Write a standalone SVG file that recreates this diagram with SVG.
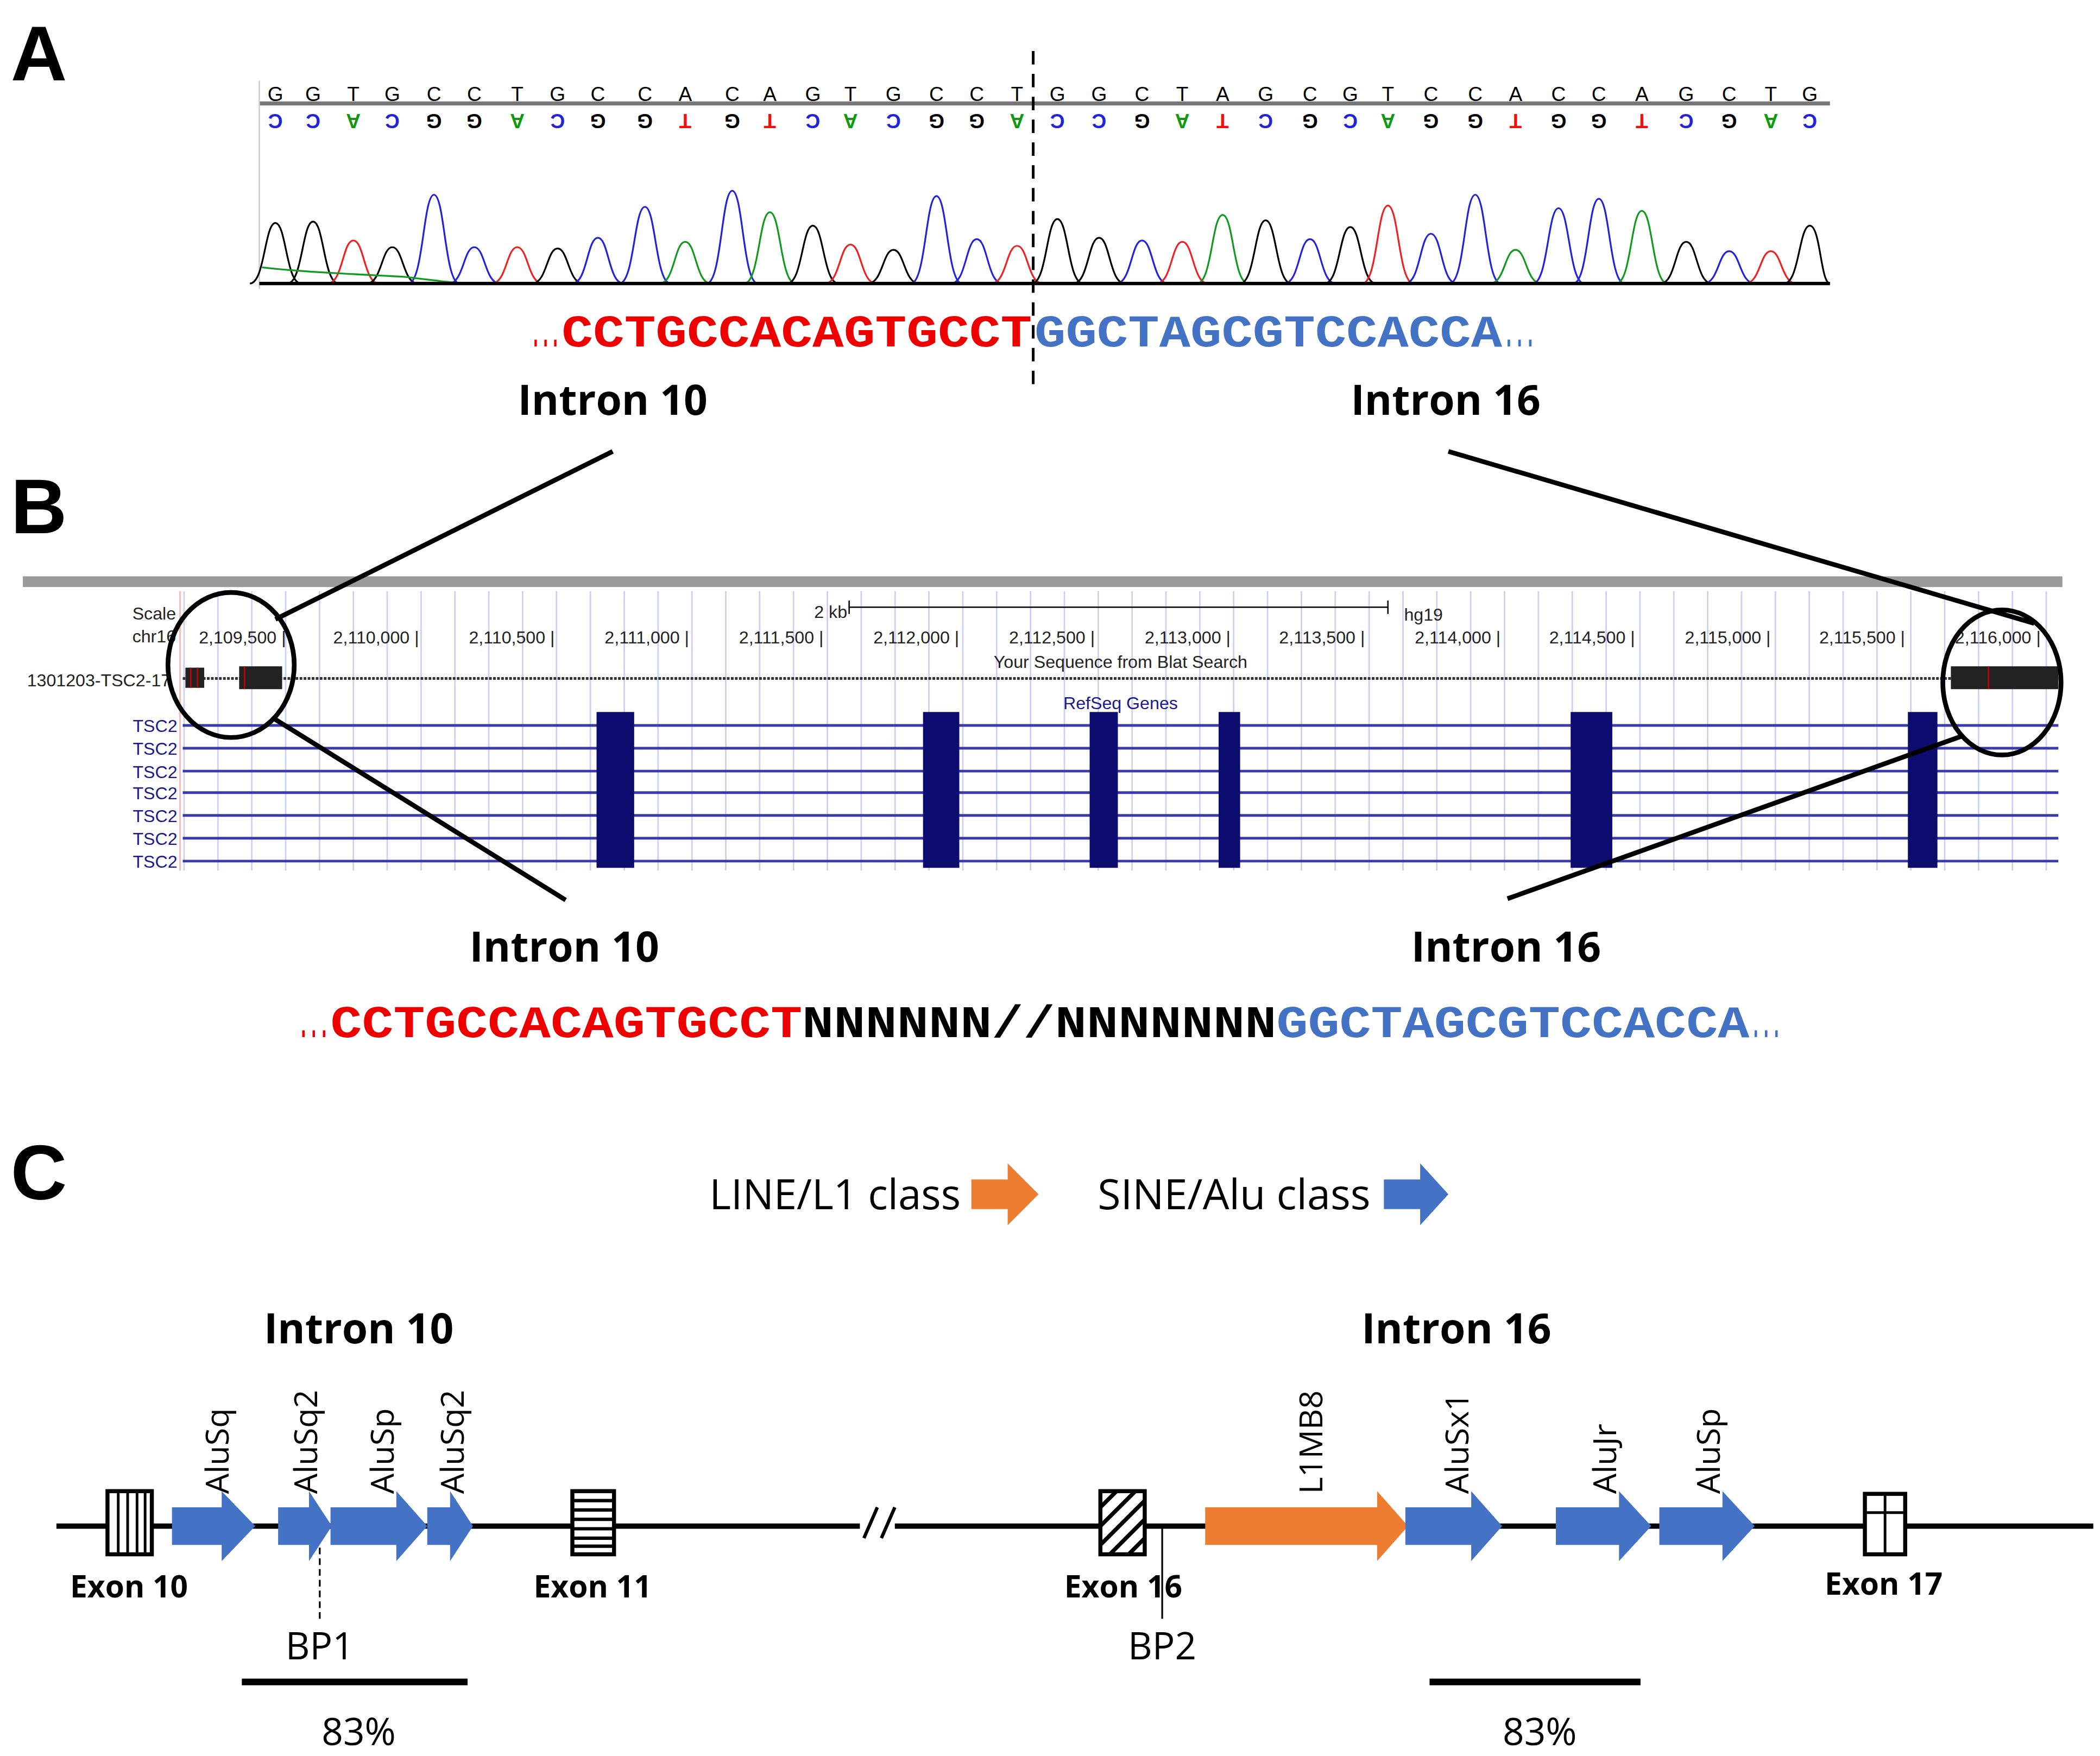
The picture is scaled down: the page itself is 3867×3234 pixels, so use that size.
<svg xmlns="http://www.w3.org/2000/svg" width="3867" height="3234" viewBox="0 0 3867 3234">
<style>
.lbl{font-family:"Liberation Sans",Arial,sans-serif;font-weight:bold;font-size:58px}
.ib{font-family:"Open Sans","Liberation Sans",sans-serif;font-weight:bold;font-size:31px;text-anchor:middle}
.seq{font-family:"Liberation Mono","Courier New",monospace;font-weight:bold;font-size:34px}
.b{font-family:"Liberation Sans",sans-serif;font-size:15px;text-anchor:middle}
.u{font-family:"Liberation Sans",sans-serif;font-size:13px;fill:#222}
.t{font-family:"Liberation Sans",sans-serif;font-size:13px;fill:#1a1a8c;text-anchor:end}
.rl{font-family:"Open Sans","Liberation Sans",sans-serif;font-size:24px}
.lg{font-family:"Open Sans","Liberation Sans",sans-serif;font-size:31px}
.ex{font-family:"Open Sans","Liberation Sans",sans-serif;font-weight:bold;font-size:23px;text-anchor:middle}
.nm{font-family:"Open Sans","Liberation Sans",sans-serif;font-size:28px;text-anchor:middle}
.pk{fill:none;stroke-width:1.3}
.alu{fill:#4472c4}
.l1{fill:#ed7d31}
.box{fill:#fff;stroke:#000;stroke-width:3}
</style>
<defs>
<pattern id="grid" x="136" y="0" width="25.2" height="10" patternUnits="userSpaceOnUse"><line x1="1" y1="0" x2="1" y2="10" stroke="#c8c8f0" stroke-width="1"/></pattern>
</defs>
<rect width="3867" height="3234" fill="#fff"/>
<g transform="scale(2.4741)">
<!-- Panel A -->
<g id="panelA">
<text class="lbl" x="8" y="60">A</text>
<line x1="193" y1="77" x2="1362" y2="77" stroke="#777" stroke-width="3"/>
<line x1="193" y1="60" x2="193" y2="215" stroke="#ccc" stroke-width="1"/>
<g id="bases">
<text class="b" x="205" y="75">G</text><text class="b" x="233" y="75">G</text><text class="b" x="263" y="75">T</text><text class="b" x="292" y="75">G</text><text class="b" x="323" y="75">C</text><text class="b" x="353" y="75">C</text><text class="b" x="385" y="75">T</text><text class="b" x="415" y="75">G</text><text class="b" x="445" y="75">C</text><text class="b" x="480" y="75">C</text><text class="b" x="510" y="75">A</text><text class="b" x="545" y="75">C</text><text class="b" x="573" y="75">A</text><text class="b" x="605" y="75">G</text><text class="b" x="633" y="75">T</text><text class="b" x="665" y="75">G</text><text class="b" x="697" y="75">C</text><text class="b" x="727" y="75">C</text><text class="b" x="757" y="75">T</text><text class="b" x="787" y="75">G</text><text class="b" x="818" y="75">G</text><text class="b" x="850" y="75">C</text><text class="b" x="880" y="75">T</text><text class="b" x="910" y="75">A</text><text class="b" x="942" y="75">G</text><text class="b" x="975" y="75">C</text><text class="b" x="1005" y="75">G</text><text class="b" x="1033" y="75">T</text><text class="b" x="1065" y="75">C</text><text class="b" x="1098" y="75">C</text><text class="b" x="1128" y="75">A</text><text class="b" x="1160" y="75">C</text><text class="b" x="1190" y="75">C</text><text class="b" x="1222" y="75">A</text><text class="b" x="1255" y="75">G</text><text class="b" x="1287" y="75">C</text><text class="b" x="1318" y="75">T</text><text class="b" x="1347" y="75">G</text>
</g>
<g id="rbases" font-weight="bold">
<text class="b" fill="#2222dd" transform="rotate(180 205 85)" x="205" y="85">C</text><text class="b" fill="#2222dd" transform="rotate(180 233 85)" x="233" y="85">C</text><text class="b" fill="#119911" transform="rotate(180 263 85)" x="263" y="85">A</text><text class="b" fill="#2222dd" transform="rotate(180 292 85)" x="292" y="85">C</text><text class="b" fill="#000" transform="rotate(180 323 85)" x="323" y="85">G</text><text class="b" fill="#000" transform="rotate(180 353 85)" x="353" y="85">G</text><text class="b" fill="#119911" transform="rotate(180 385 85)" x="385" y="85">A</text><text class="b" fill="#2222dd" transform="rotate(180 415 85)" x="415" y="85">C</text><text class="b" fill="#000" transform="rotate(180 445 85)" x="445" y="85">G</text><text class="b" fill="#000" transform="rotate(180 480 85)" x="480" y="85">G</text><text class="b" fill="#ee1111" transform="rotate(180 510 85)" x="510" y="85">T</text><text class="b" fill="#000" transform="rotate(180 545 85)" x="545" y="85">G</text><text class="b" fill="#ee1111" transform="rotate(180 573 85)" x="573" y="85">T</text><text class="b" fill="#2222dd" transform="rotate(180 605 85)" x="605" y="85">C</text><text class="b" fill="#119911" transform="rotate(180 633 85)" x="633" y="85">A</text><text class="b" fill="#2222dd" transform="rotate(180 665 85)" x="665" y="85">C</text><text class="b" fill="#000" transform="rotate(180 697 85)" x="697" y="85">G</text><text class="b" fill="#000" transform="rotate(180 727 85)" x="727" y="85">G</text><text class="b" fill="#119911" transform="rotate(180 757 85)" x="757" y="85">A</text><text class="b" fill="#2222dd" transform="rotate(180 787 85)" x="787" y="85">C</text><text class="b" fill="#2222dd" transform="rotate(180 818 85)" x="818" y="85">C</text><text class="b" fill="#000" transform="rotate(180 850 85)" x="850" y="85">G</text><text class="b" fill="#119911" transform="rotate(180 880 85)" x="880" y="85">A</text><text class="b" fill="#ee1111" transform="rotate(180 910 85)" x="910" y="85">T</text><text class="b" fill="#2222dd" transform="rotate(180 942 85)" x="942" y="85">C</text><text class="b" fill="#000" transform="rotate(180 975 85)" x="975" y="85">G</text><text class="b" fill="#2222dd" transform="rotate(180 1005 85)" x="1005" y="85">C</text><text class="b" fill="#119911" transform="rotate(180 1033 85)" x="1033" y="85">A</text><text class="b" fill="#000" transform="rotate(180 1065 85)" x="1065" y="85">G</text><text class="b" fill="#000" transform="rotate(180 1098 85)" x="1098" y="85">G</text><text class="b" fill="#ee1111" transform="rotate(180 1128 85)" x="1128" y="85">T</text><text class="b" fill="#000" transform="rotate(180 1160 85)" x="1160" y="85">G</text><text class="b" fill="#000" transform="rotate(180 1190 85)" x="1190" y="85">G</text><text class="b" fill="#ee1111" transform="rotate(180 1222 85)" x="1222" y="85">T</text><text class="b" fill="#2222dd" transform="rotate(180 1255 85)" x="1255" y="85">C</text><text class="b" fill="#000" transform="rotate(180 1287 85)" x="1287" y="85">G</text><text class="b" fill="#119911" transform="rotate(180 1318 85)" x="1318" y="85">A</text><text class="b" fill="#2222dd" transform="rotate(180 1347 85)" x="1347" y="85">C</text>
</g>
<g id="traces">
<path class="pk" stroke="#000" d="M186 211C197 211 197 166 205 166C213 166 213 211 224 211"/>
<path class="pk" stroke="#000" d="M214 211C225 211 225 165 233 165C241 165 241 211 252 211"/>
<path class="pk" stroke="#e22" d="M244 211C255 211 255 179 263 179C271 179 271 211 282 211"/>
<path class="pk" stroke="#000" d="M273 211C284 211 284 184 292 184C300 184 300 211 311 211"/>
<path class="pk" stroke="#22d" d="M304 211C315 211 315 145 323 145C331 145 331 211 342 211"/>
<path class="pk" stroke="#22d" d="M334 211C345 211 345 184 353 184C361 184 361 211 372 211"/>
<path class="pk" stroke="#e22" d="M366 211C377 211 377 184 385 184C393 184 393 211 404 211"/>
<path class="pk" stroke="#000" d="M396 211C407 211 407 185 415 185C423 185 423 211 434 211"/>
<path class="pk" stroke="#22d" d="M426 211C437 211 437 177 445 177C453 177 453 211 464 211"/>
<path class="pk" stroke="#22d" d="M461 211C472 211 472 154 480 154C488 154 488 211 499 211"/>
<path class="pk" stroke="#192" d="M491 211C502 211 502 180 510 180C518 180 518 211 529 211"/>
<path class="pk" stroke="#22d" d="M526 211C537 211 537 142 545 142C553 142 553 211 564 211"/>
<path class="pk" stroke="#192" d="M554 211C565 211 565 158 573 158C581 158 581 211 592 211"/>
<path class="pk" stroke="#000" d="M586 211C597 211 597 168 605 168C613 168 613 211 624 211"/>
<path class="pk" stroke="#e22" d="M614 211C625 211 625 182 633 182C641 182 641 211 652 211"/>
<path class="pk" stroke="#000" d="M646 211C657 211 657 186 665 186C673 186 673 211 684 211"/>
<path class="pk" stroke="#22d" d="M678 211C689 211 689 146 697 146C705 146 705 211 716 211"/>
<path class="pk" stroke="#22d" d="M708 211C719 211 719 178 727 178C735 178 735 211 746 211"/>
<path class="pk" stroke="#e22" d="M738 211C749 211 749 183 757 183C765 183 765 211 776 211"/>
<path class="pk" stroke="#000" d="M768 211C779 211 779 163 787 163C795 163 795 211 806 211"/>
<path class="pk" stroke="#000" d="M799 211C810 211 810 177 818 177C826 177 826 211 837 211"/>
<path class="pk" stroke="#22d" d="M831 211C842 211 842 179 850 179C858 179 858 211 869 211"/>
<path class="pk" stroke="#e22" d="M861 211C872 211 872 180 880 180C888 180 888 211 899 211"/>
<path class="pk" stroke="#192" d="M891 211C902 211 902 160 910 160C918 160 918 211 929 211"/>
<path class="pk" stroke="#000" d="M923 211C934 211 934 164 942 164C950 164 950 211 961 211"/>
<path class="pk" stroke="#22d" d="M956 211C967 211 967 178 975 178C983 178 983 211 994 211"/>
<path class="pk" stroke="#000" d="M986 211C997 211 997 169 1005 169C1013 169 1013 211 1024 211"/>
<path class="pk" stroke="#e22" d="M1014 211C1025 211 1025 153 1033 153C1041 153 1041 211 1052 211"/>
<path class="pk" stroke="#22d" d="M1046 211C1057 211 1057 174 1065 174C1073 174 1073 211 1084 211"/>
<path class="pk" stroke="#22d" d="M1079 211C1090 211 1090 145 1098 145C1106 145 1106 211 1117 211"/>
<path class="pk" stroke="#192" d="M1109 211C1120 211 1120 186 1128 186C1136 186 1136 211 1147 211"/>
<path class="pk" stroke="#22d" d="M1141 211C1152 211 1152 155 1160 155C1168 155 1168 211 1179 211"/>
<path class="pk" stroke="#22d" d="M1171 211C1182 211 1182 148 1190 148C1198 148 1198 211 1209 211"/>
<path class="pk" stroke="#192" d="M1203 211C1214 211 1214 157 1222 157C1230 157 1230 211 1241 211"/>
<path class="pk" stroke="#000" d="M1236 211C1247 211 1247 180 1255 180C1263 180 1263 211 1274 211"/>
<path class="pk" stroke="#22d" d="M1268 211C1279 211 1279 187 1287 187C1295 187 1295 211 1306 211"/>
<path class="pk" stroke="#e22" d="M1299 211C1310 211 1310 187 1318 187C1326 187 1326 211 1337 211"/>
<path class="pk" stroke="#000" d="M1328 211C1339 211 1339 168 1347 168C1355 168 1355 211 1362 211"/>
<path class="pk" stroke="#192" d="M195 199C220 202 260 204 300 206C320 208 330 210 345 211"/>
</g>
<line x1="193" y1="211" x2="1362" y2="211" stroke="#000" stroke-width="2.5"/>
<line x1="769" y1="38" x2="769" y2="292" stroke="#000" stroke-width="2" stroke-dasharray="10,7"/>
<text class="seq" x="395" y="258" fill="#e00" font-size="22" textLength="22" lengthAdjust="spacingAndGlyphs">...</text>
<text class="seq" x="418" y="258" fill="#e00" textLength="350" lengthAdjust="spacingAndGlyphs">CCTGCCACAGTGCCT</text>
<text class="seq" x="770" y="258" fill="#4472c4" textLength="348" lengthAdjust="spacingAndGlyphs">GGCTAGCGTCCACCA</text>
<text class="seq" x="1119" y="258" fill="#4472c4" font-size="22" textLength="24" lengthAdjust="spacingAndGlyphs">...</text>
<text class="ib" x="456" y="309">Intron 10</text>
<text class="ib" x="1076" y="309">Intron 16</text>
</g>
<!-- Panel B -->
<g id="panelB">
<text class="lbl" x="8" y="397">B</text>
<rect x="17" y="429" width="1518" height="8" fill="#9a9a9a"/>
<rect x="136" y="440" width="1399" height="208" fill="url(#grid)"/>
<line x1="134" y1="440" x2="134" y2="648" stroke="#f4b0b0" stroke-width="1"/>
<text class="u" x="131" y="461" text-anchor="end">Scale</text>
<text class="u" x="131" y="478" text-anchor="end">chr16</text>
<g class="u">
<text x="148" y="479">2,109,500 |</text><text x="248" y="479">2,110,000 |</text><text x="349" y="479">2,110,500 |</text><text x="450" y="479">2,111,000 |</text><text x="550" y="479">2,111,500 |</text><text x="650" y="479">2,112,000 |</text><text x="751" y="479">2,112,500 |</text><text x="852" y="479">2,113,000 |</text><text x="952" y="479">2,113,500 |</text><text x="1053" y="479">2,114,000 |</text><text x="1153" y="479">2,114,500 |</text><text x="1254" y="479">2,115,000 |</text><text x="1354" y="479">2,115,500 |</text><text x="1455" y="479">2,116,000 |</text>
<text x="606" y="460">2 kb</text><text x="1045" y="462">hg19</text>
<text x="834" y="497" text-anchor="middle">Your Sequence from Blat Search</text>
<text x="834" y="528" text-anchor="middle" fill="#1a1a8c">RefSeq Genes</text>
<text x="127" y="511" text-anchor="end">1301203-TSC2-17</text>
</g>
<path d="M632 447V457M632 452H1033M1033 447V457" stroke="#000" stroke-width="1" fill="none"/>
<line x1="136" y1="505" x2="1532" y2="505" stroke="#333" stroke-width="2" stroke-dasharray="2,1"/>
<rect x="138" y="497" width="14" height="15" fill="#222"/><line x1="142" y1="497" x2="142" y2="512" stroke="#c00"/><line x1="147" y1="497" x2="147" y2="512" stroke="#c00"/>
<rect x="178" y="496" width="32" height="17" fill="#222"/><line x1="182" y1="496" x2="182" y2="513" stroke="#c00"/>
<rect x="1452" y="496" width="80" height="17" fill="#222"/><line x1="1480" y1="496" x2="1480" y2="513" stroke="#c00"/>
<g stroke="#3a3aa8" stroke-width="2">
<line x1="136" y1="540" x2="1532" y2="540"/><line x1="136" y1="557" x2="1532" y2="557"/><line x1="136" y1="574" x2="1532" y2="574"/><line x1="136" y1="590" x2="1532" y2="590"/><line x1="136" y1="607" x2="1532" y2="607"/><line x1="136" y1="624" x2="1532" y2="624"/><line x1="136" y1="641" x2="1532" y2="641"/>
</g>
<g class="t"><text x="132" y="545">TSC2</text><text x="132" y="562">TSC2</text><text x="132" y="579">TSC2</text><text x="132" y="595">TSC2</text><text x="132" y="612">TSC2</text><text x="132" y="629">TSC2</text><text x="132" y="646">TSC2</text></g>
<g fill="#0c0c6e">
<rect x="444" y="530" width="28" height="116"/><rect x="687" y="530" width="27" height="116"/><rect x="811" y="530" width="21" height="116"/><rect x="907" y="530" width="16" height="116"/><rect x="1169" y="530" width="31" height="116"/><rect x="1420" y="530" width="22" height="116"/>
</g>
<g fill="none" stroke="#000" stroke-width="3.5">
<ellipse cx="172" cy="495" rx="47" ry="54"/>
<ellipse cx="1490" cy="508" rx="44" ry="54"/>
<line x1="456" y1="336" x2="205" y2="461"/>
<line x1="1078" y1="336" x2="1514" y2="464"/>
<line x1="204" y1="535" x2="421" y2="670"/>
<line x1="1122" y1="669" x2="1460" y2="548"/>
</g>
<text class="ib" x="420" y="716">Intron 10</text>
<text class="ib" x="1121" y="716">Intron 16</text>
<text class="seq" x="222" y="772" fill="#e00" font-size="22" textLength="23" lengthAdjust="spacingAndGlyphs">...</text>
<text class="seq" x="246" y="772" fill="#e00" textLength="351" lengthAdjust="spacingAndGlyphs">CCTGCCACAGTGCCT</text>
<text class="seq" x="597" y="772" fill="#000" textLength="353" lengthAdjust="spacingAndGlyphs">NNNNNN//NNNNNNN</text>
<text class="seq" x="950" y="772" fill="#4472c4" textLength="352" lengthAdjust="spacingAndGlyphs">GGCTAGCGTCCACCA</text>
<text class="seq" x="1303" y="772" fill="#4472c4" font-size="22" textLength="23" lengthAdjust="spacingAndGlyphs">...</text>
</g>
<!-- Panel C -->
<g id="panelC">
<text class="lbl" x="8" y="893">C</text>
<text class="lg" x="528" y="900" textLength="187" lengthAdjust="spacingAndGlyphs">LINE/L1 class</text>
<path class="l1" d="M723 878H750V866L773 889L750 912V900H723Z"/>
<text class="lg" x="817" y="900" textLength="203" lengthAdjust="spacingAndGlyphs">SINE/Alu class</text>
<path class="alu" d="M1030 878H1057V866L1078 889L1057 912V900H1030Z"/>
<text class="ib" x="267" y="1000">Intron 10</text>
<text class="ib" x="1084" y="1000">Intron 16</text>
</g>
<g id="connectors">
<line x1="42" y1="1136" x2="640" y2="1136" stroke="#000" stroke-width="4"/>
<line x1="666" y1="1136" x2="1558" y2="1136" stroke="#000" stroke-width="4"/>
<g stroke="#000" stroke-width="2.5"><line x1="643" y1="1145" x2="653" y2="1122"/><line x1="656" y1="1145" x2="666" y2="1122"/></g>
<line x1="238" y1="1152" x2="238" y2="1205" stroke="#000" stroke-width="1.3" stroke-dasharray="5,3"/>
<line x1="865" y1="1137" x2="865" y2="1205" stroke="#000" stroke-width="1.3"/>
</g>
<g id="exon10"><rect class="box" x="80" y="1110" width="33" height="47"/><g stroke="#000" stroke-width="2"><line x1="88" y1="1110" x2="88" y2="1157"/><line x1="95" y1="1110" x2="95" y2="1157"/><line x1="102" y1="1110" x2="102" y2="1157"/><line x1="108" y1="1110" x2="108" y2="1157"/></g><text class="ex" x="96" y="1189">Exon 10</text></g>
<g id="exon11"><rect class="box" x="426" y="1110" width="31" height="47"/><g stroke="#000" stroke-width="2.5"><line x1="426" y1="1117" x2="457" y2="1117"/><line x1="426" y1="1124" x2="457" y2="1124"/><line x1="426" y1="1131" x2="457" y2="1131"/><line x1="426" y1="1138" x2="457" y2="1138"/><line x1="426" y1="1145" x2="457" y2="1145"/><line x1="426" y1="1151" x2="457" y2="1151"/></g><text class="ex" x="441" y="1189">Exon 11</text></g>
<g id="exon16"><rect class="box" x="819" y="1110" width="33" height="47"/><g stroke="#000" stroke-width="3"><line x1="819" y1="1122" x2="831" y2="1110"/><line x1="819" y1="1136" x2="845" y2="1110"/><line x1="819" y1="1150" x2="852" y2="1117"/><line x1="826" y1="1157" x2="852" y2="1131"/><line x1="840" y1="1157" x2="852" y2="1145"/></g><text class="ex" x="836" y="1189">Exon 16</text></g>
<g id="exon17"><rect class="box" x="1388" y="1112" width="30" height="45"/><g stroke="#000" stroke-width="2"><line x1="1403" y1="1112" x2="1403" y2="1157"/><line x1="1388" y1="1126" x2="1418" y2="1126"/></g><text class="ex" x="1402" y="1187">Exon 17</text></g>
<g id="aluSq"><path class="alu" d="M128 1122H165V1110L190 1136L165 1162V1150H128Z"/><text class="rl" transform="translate(170 1112) rotate(-90)">AluSq</text></g>
<g id="aluSq2a"><path class="alu" d="M207 1122H230V1110L247 1136L230 1162V1150H207Z"/><text class="rl" transform="translate(236 1112) rotate(-90)">AluSq2</text></g>
<g id="aluSp"><path class="alu" d="M246 1122H295V1110L318 1136L295 1162V1150H246Z"/><text class="rl" transform="translate(293 1112) rotate(-90)">AluSp</text></g>
<g id="aluSq2b"><path class="alu" d="M318 1122H335V1110L352 1136L335 1162V1150H318Z"/><text class="rl" transform="translate(345 1112) rotate(-90)">AluSq2</text></g>
<g id="l1mb8"><path class="l1" d="M897 1122H1025V1110L1048 1136L1025 1162V1150H897Z"/><text class="rl" transform="translate(984 1112) rotate(-90)">L1MB8</text></g>
<g id="aluSx1"><path class="alu" d="M1046 1122H1095V1110L1118 1136L1095 1162V1150H1046Z"/><text class="rl" transform="translate(1093 1112) rotate(-90)">AluSx1</text></g>
<g id="aluJr"><path class="alu" d="M1158 1122H1205V1110L1229 1136L1205 1162V1150H1158Z"/><text class="rl" transform="translate(1203 1112) rotate(-90)">AluJr</text></g>
<g id="aluSp2"><path class="alu" d="M1235 1122H1282V1110L1306 1136L1282 1162V1150H1235Z"/><text class="rl" transform="translate(1280 1112) rotate(-90)">AluSp</text></g>
<g id="bp1"><text class="nm" x="238" y="1235">BP1</text></g>
<g id="bp2"><text class="nm" x="865" y="1235">BP2</text></g>
<g id="sim1"><line x1="180" y1="1252" x2="348" y2="1252" stroke="#000" stroke-width="5"/><text class="nm" x="267" y="1299">83%</text></g>
<g id="sim2"><line x1="1064" y1="1252" x2="1221" y2="1252" stroke="#000" stroke-width="5"/><text class="nm" x="1146" y="1299">83%</text></g>
</g>
</svg>
